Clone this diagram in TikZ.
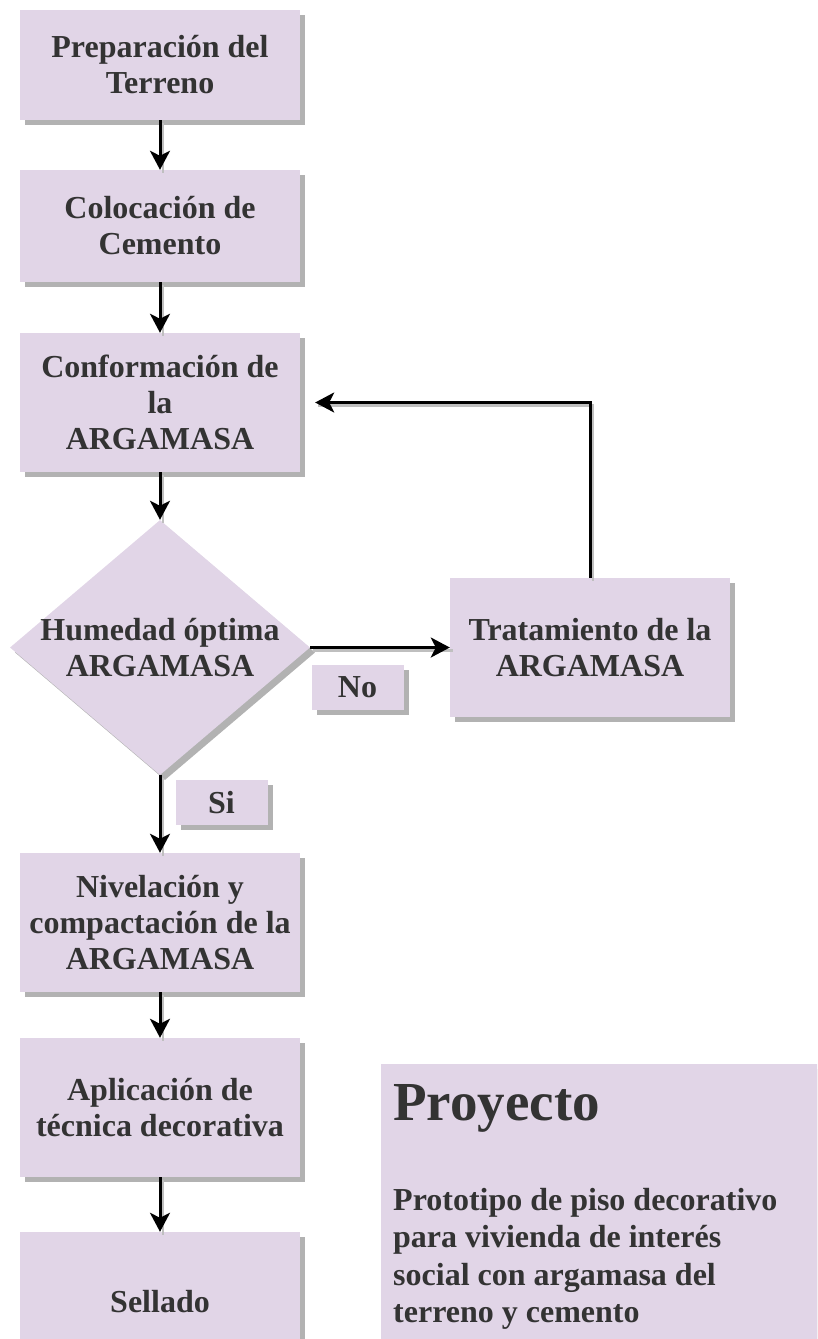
\documentclass[tikz,border=0pt]{standalone}
\usepackage{fontspec}
\setmainfont{Liberation Serif}
\usetikzlibrary{shapes.geometric,arrows.meta,shadows}
\definecolor{lila}{HTML}{E1D5E7}
\definecolor{texto}{HTML}{333333}
\begin{document}
\begin{tikzpicture}[x=1pt,y=-1pt,
  letra/.style={text=texto,align=center,font=\bfseries\fontsize{32}{36}\selectfont},
  box/.style={rectangle,fill=lila,letra,inner sep=4pt,
    drop shadow={shadow xshift=5pt,shadow yshift=-5pt,fill=black!30,opacity=1}},
  paso/.style={box,minimum width=280pt,minimum height=139pt},
  etiq/.style={box,minimum width=92pt,minimum height=45pt},
  decision/.style={diamond,fill=lila,minimum width=300pt,minimum height=255pt,inner sep=0pt,
    drop shadow={shadow xshift=5pt,shadow yshift=-5pt,fill=black!30,opacity=1}},
  flecha/.style={line width=3pt,-{Stealth[length=19pt,width=20pt,inset=5pt]},
    preaction={draw=black!25,line width=2.5pt,arrows=-,transform canvas={shift={(3pt,-3pt)}}}}]
\useasboundingbox (0,0) rectangle (817,1339);
\clip (0,0) rectangle (817,1339);

\node (prep) at (160,65) [paso,minimum height=110pt]{Preparación del\\Terreno};
\node (coloc) at (160,226) [paso,minimum height=112pt]{Colocación de\\Cemento};
\node (conf) at (160,402.5) [paso]{Conformación de\\la\\ARGAMASA};
\node (hum) at (160,647.5) [decision,label={[letra]center:Humedad óptima\\ARGAMASA}]{};
\node (trat) at (590,647.5) [paso]{Tratamiento de la\\ARGAMASA};
\node (no) at (357.5,687.5) [etiq]{No};
\node (si) at (221.5,802.5) [etiq]{Si};
\node (nivel) at (160,922.5) [paso]{Nivelación y\\compactación de la\\ARGAMASA};
\node (aplic) at (160,1107.5) [paso]{Aplicación de\\técnica decorativa};
\node (sell) at (160,1301.5) [paso]{Sellado};

\node (proj) at (381,1064) [box,anchor=north west,minimum width=460pt,minimum height=300pt]{};
\node (tit) at (393,1120) [anchor=base west,text=texto,font=\bfseries\fontsize{55}{60}\selectfont,inner sep=0pt]{Proyecto};
\node (desc) at (393,1188) [anchor=north west,text=texto,align=left,inner sep=0pt,
  font=\bfseries\fontsize{32}{37.5}\selectfont]{Prototipo de piso decorativo\\para vivienda de interés\\social con argamasa del\\terreno y cemento};

\draw[flecha] (prep)--(coloc);
\draw[flecha] (coloc)--(conf);
\draw[flecha] (conf)--(hum);
\draw[flecha] (hum.east)--(trat.west);
\draw[flecha] (trat.north) |- ([xshift=15pt]conf.east);
\draw[flecha] (hum.south)--(nivel);
\draw[flecha] (nivel)--(aplic);
\draw[flecha] (aplic)--(sell);

\end{tikzpicture}
\end{document}
